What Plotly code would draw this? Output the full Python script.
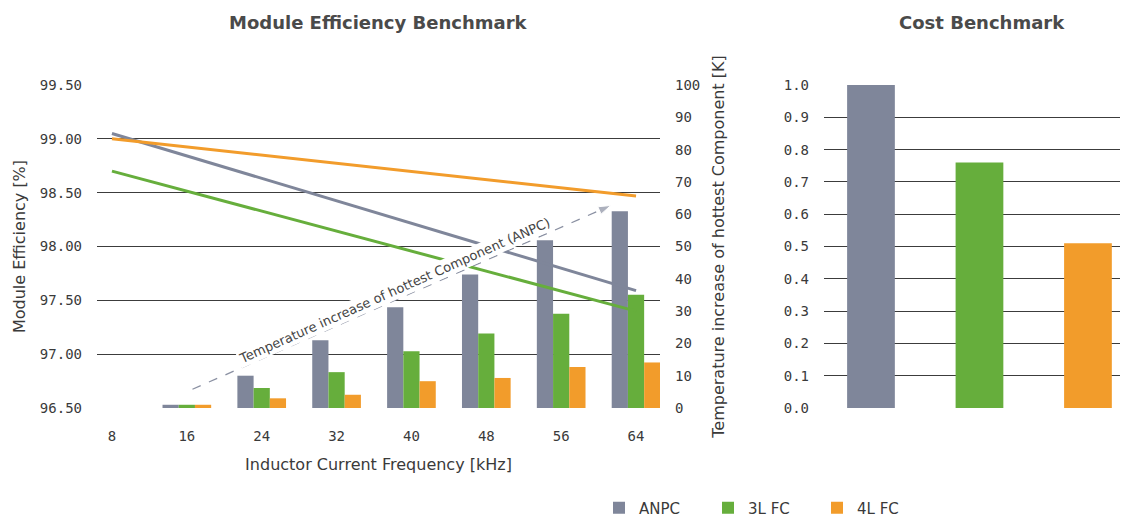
import plotly.graph_objects as go

# ---------------- data ----------------
freq_line = [8, 64]
eff_anpc = [99.05, 97.59]
eff_3l = [98.70, 97.40]
eff_4l = [99.00, 98.47]

freq_bar = [16, 24, 32, 40, 48, 56, 64]
temp_anpc = [1.0, 10.0, 21.0, 31.2, 41.3, 51.9, 60.9]
temp_3l = [1.0, 6.2, 11.1, 17.6, 23.1, 29.2, 35.1]
temp_4l = [1.0, 3.0, 4.1, 8.3, 9.3, 12.7, 14.1]

arrow_x = [16.6, 61.3]
arrow_y = [5.8, 62.7]

cost_topologies = ["ANPC", "3L FC", "4L FC"]
cost_values = [1.00, 0.76, 0.51]

freq_ticks = [8, 16, 24, 32, 40, 48, 56, 64]

# ---------------- style ----------------
C_GREY = "#7f869a"
C_GREEN = "#66ae3c"
C_ORANGE = "#f29c2b"
TXT = "#3a3a3a"
GRID = "#3c3c3c"
MONO = "DejaVu Sans Mono"
SANS = "DejaVu Sans"

W, H = 1128, 516
OFF = 8  # page body margin


def px(x):
    return (x - OFF) / W


def py(y):
    return (H + OFF - y) / H


y_dom = [py(408), py(85)]

fig = go.Figure()

# Bars (temperature, base axis y)
for name, vals, col in [("ANPC", temp_anpc, C_GREY), ("3L FC", temp_3l, C_GREEN), ("4L FC", temp_4l, C_ORANGE)]:
    fig.add_trace(go.Bar(x=freq_bar, y=vals, name=name, marker=dict(color=col, line=dict(width=0)),
                         xaxis="x", yaxis="y", showlegend=True, legendgroup=name))

# dashed arrow
fig.add_trace(go.Scatter(x=arrow_x, y=arrow_y, mode="lines+markers", xaxis="x", yaxis="y",
                         line=dict(color="#8a90a2", width=1.3, dash="dash"),
                         marker=dict(symbol="arrow", size=[0, 13], angleref="previous", color="#8a90a2"),
                         showlegend=False, hoverinfo="skip"))

# Efficiency lines (overlay axis y2)
for name, vals, col in [("ANPC", eff_anpc, C_GREY), ("3L FC", eff_3l, C_GREEN), ("4L FC", eff_4l, C_ORANGE)]:
    fig.add_trace(go.Scatter(x=freq_line, y=vals, mode="lines", name=name,
                             line=dict(color=col, width=3), xaxis="x", yaxis="y2",
                             showlegend=False, legendgroup=name))

# Cost bars
fig.add_trace(go.Bar(x=cost_topologies, y=cost_values, width=0.44,
                     marker=dict(color=[C_GREY, C_GREEN, C_ORANGE], line=dict(width=0)),
                     xaxis="x3", yaxis="y3", showlegend=False))

fig.update_layout(
    width=W, height=H,
    margin=dict(l=0, r=0, t=0, b=0, autoexpand=False),
    paper_bgcolor="white", plot_bgcolor="rgba(0,0,0,0)",
    barmode="group", bargap=0.35, bargroupgap=0,
    font=dict(family=SANS, color=TXT, size=14),
    xaxis=dict(domain=[px(97), px(660)], range=[6.4, 66.56], tickvals=freq_ticks,
               showgrid=False, zeroline=False, showline=False, anchor="y",
               tickfont=dict(family=MONO, size=14, color=TXT), ticklabelstandoff=18,
               title=dict(text="Inductor Current Frequency [kHz]", standoff=15,
                          font=dict(family=SANS, size=16, color=TXT))),
    yaxis=dict(domain=y_dom, range=[0, 100], dtick=10, side="right", anchor="x",
               showgrid=False, zeroline=False, showline=False,
               tickfont=dict(family=MONO, size=14, color=TXT), ticklabelstandoff=14,
               title=dict(text="Temperature increase of hottest Component [K]", standoff=13,
                          font=dict(family=SANS, size=16, color=TXT))),
    yaxis2=dict(overlaying="y", range=[96.5, 99.5], dtick=0.5, tickformat=".2f", side="left",
                anchor="x", showgrid=True, gridcolor=GRID, gridwidth=1.3, zeroline=False,
                showline=False, tickfont=dict(family=MONO, size=14, color=TXT), ticklabelstandoff=14,
                title=dict(text="Module Efficiency [%]", standoff=10,
                           font=dict(family=SANS, size=16, color=TXT))),
    xaxis3=dict(domain=[px(824), px(1128)], range=[-0.433, 2.369], anchor="y3",
                showticklabels=False, showgrid=False, zeroline=False, showline=False),
    yaxis3=dict(domain=y_dom, range=[0, 1.0], dtick=0.1, tickformat=".1f", anchor="x3",
                showgrid=True, gridcolor=GRID, gridwidth=1.3, zeroline=False, showline=False,
                tickfont=dict(family=MONO, size=14, color=TXT), ticklabelstandoff=14),
    legend=dict(orientation="h", x=px(599), xanchor="left", y=py(508), yanchor="middle",
                entrywidth=64, entrywidthmode="pixels", traceorder="normal",
                font=dict(family=SANS, size=15, color=TXT), bgcolor="rgba(0,0,0,0)"),
    annotations=[
        dict(text="<b>Module Efficiency Benchmark</b>", x=px(378), y=py(22), xanchor="center", yanchor="middle",
             xref="paper", yref="paper", showarrow=False, font=dict(family=SANS, size=18, color="#4a4a4a")),
        dict(text="<b>Cost Benchmark</b>", x=px(982), y=py(22), xanchor="center", yanchor="middle",
             xref="paper", yref="paper", showarrow=False, font=dict(family=SANS, size=18, color="#4a4a4a")),
        dict(text="Temperature increase of hottest Component (ANPC)", x=38.2, y=36.5, xref="x", yref="y",
             showarrow=False, textangle=-24, bgcolor="white",
             font=dict(family=SANS, size=13, color="#444444")),
    ],
)

fig.write_html("out.html")
